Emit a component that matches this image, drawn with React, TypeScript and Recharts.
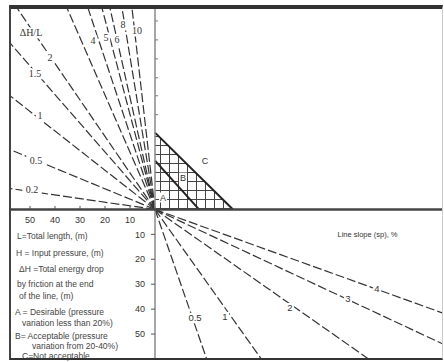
import {
  ComposedChart,
  Line,
  Area,
  XAxis,
  YAxis,
  ReferenceLine,
  ReferenceDot,
} from "recharts";

// ΔH/L lines (upper-left quadrant), end points where they leave the frame
const ratioLabels = ["0.2", "0.5", "1", "1.5", "2", "3", "4", "5", "6", "8", "10"];
const ratioEndX = [-58, -58, -58, -58, -55.2, -35.2, -26.8, -21.2, -18, -13.2, -9.2];
const ratioEndY = [8.4, 24, 45.6, 66.8, 80.8, 80.8, 80.8, 80.8, 80.8, 80.8, 80.8];

// line slope lines (lower-right quadrant)
const slopeLabels = ["0.5", "1", "2", "3", "4"];
const slopeEndX = [20.8, 42.8, 86, 115.2, 115.2];
const slopeEndY = [-60.4, -60.4, -60.4, -54, -41.6];

// zone limits (upper-right quadrant)
const zoneNames = ["B", "C"];
const zoneTopY = [19.6, 30.8];
const zoneEndX = [17.6, 31.2];

const lengthTicks = [10, 20, 30, 40, 50];
const depthTicks = [10, 20, 30, 40, 50];
const pressureTicks = [38, 45.6, 52.8, 60.4, 68, 75.6];

// where the labels sit (chart units)
const ratioSpots: ([number, number] | null)[] = [
  [-49.2, 8], [-47.6, 19.6], [-46, 37.6], [-48, 54.4], [-42, 60.8], null,
  [-24.8, 67.6], [-19.6, 68.8], [-15.2, 68], [-12.8, 74], [-7.2, 71.6],
];
const slopeSpots: [number, number][] = [
  [16, -43.6], [28, -43.2], [54, -39.6], [77.2, -35.6], [88.8, -31.6],
];

const X_DOMAIN = [-58, 115.2];
const Y_DOMAIN = [-60.4, 80.8];
const INK = "#333";

const notes = [
  { t: "L=Total length, (m)", x: 17, y: 231 },
  { t: "H = Input  pressure, (m)", x: 16, y: 248 },
  { t: "ΔH  =Total energy drop", x: 19, y: 264 },
  { t: "by friction at the end", x: 17, y: 279 },
  { t: "of the line, (m)", x: 19, y: 291 },
  { t: "A = Desirable (pressure", x: 15, y: 307 },
  { t: "variation less than 20%)", x: 22, y: 318 },
  { t: "B= Acceptable (pressure", x: 15, y: 331 },
  { t: "variation from 20-40%)", x: 32, y: 341 },
  { t: "C=Not acceptable", x: 22, y: 351 },
];

function Tag(props: any) {
  const { cx, cy, text, size = 10, font = "Liberation Serif", box = true } = props;
  const w = text.length * size * 0.55 + 3;
  return (
    <g>
      {box && (
        <rect x={cx - w / 2} y={cy - size * 0.55} width={w} height={size * 1.1} fill="#fff" />
      )}
      <text
        x={cx}
        y={cy}
        dy="0.35em"
        textAnchor="middle"
        fontSize={size}
        fontFamily={font}
        fill={INK}
      >
        {text}
      </text>
    </g>
  );
}

export default function App() {
  return (
    <div style={{ position: "absolute", left: 0, top: 0, width: 444, height: 362, background: "#fff" }}>
      <svg width={0} height={0} style={{ position: "absolute" }}>
        <defs>
          <pattern id="hatch" patternUnits="userSpaceOnUse" x={160} y={145} width={9} height={9}>
            <path d="M0 0.5 H9 M0.5 0 V9" stroke="#444" strokeWidth={1} fill="none" />
          </pattern>
        </defs>
      </svg>

      <ComposedChart width={444} height={362} margin={{ top: 8, right: 1, bottom: 2, left: 10 }}>
        <XAxis type="number" dataKey="x" domain={X_DOMAIN} allowDataOverflow hide />
        <YAxis type="number" dataKey="y" domain={Y_DOMAIN} allowDataOverflow hide />

        {/* hatched acceptable zone */}
        <Area
          data={[
            { x: 0, y: zoneTopY[1] },
            { x: zoneEndX[1], y: 0 },
          ]}
          dataKey="y"
          type="linear"
          stroke="none"
          fill="url(#hatch)"
          fillOpacity={1}
          isAnimationActive={false}
        />

        {ratioLabels.map((r, i) => (
          <Line
            key={"r" + r}
            data={[
              { x: 0, y: 0 },
              { x: ratioEndX[i], y: ratioEndY[i] },
            ]}
            dataKey="y"
            type="linear"
            stroke={INK}
            strokeWidth={1.2}
            strokeDasharray="9 3"
            dot={false}
            isAnimationActive={false}
          />
        ))}

        {slopeLabels.map((s, i) => (
          <Line
            key={"s" + s}
            data={[
              { x: 0, y: 0 },
              { x: slopeEndX[i], y: slopeEndY[i] },
            ]}
            dataKey="y"
            type="linear"
            stroke={INK}
            strokeWidth={1.2}
            strokeDasharray="9 3"
            dot={false}
            isAnimationActive={false}
          />
        ))}

        {zoneNames.map((z, i) => (
          <Line
            key={"z" + z}
            data={[
              { x: 0, y: zoneTopY[i] },
              { x: zoneEndX[i], y: 0 },
            ]}
            dataKey="y"
            type="linear"
            stroke="#222"
            strokeWidth={2}
            dot={false}
            isAnimationActive={false}
          />
        ))}

        {/* axes through the origin */}
        <ReferenceLine x={0} stroke="#8a8a8a" strokeWidth={1.5} />
        <ReferenceLine y={0} stroke="#444" strokeWidth={2.5} />

        {lengthTicks.map((v) => (
          <ReferenceLine key={"lt" + v} segment={[{ x: -v, y: 0 }, { x: -v, y: 1.4 }]} stroke="#555" />
        ))}
        {depthTicks.map((v) => (
          <ReferenceLine key={"dt" + v} segment={[{ x: -1.6, y: -v }, { x: 0, y: -v }]} stroke="#555" />
        ))}
        {pressureTicks.map((v) => (
          <ReferenceLine key={"pt" + v} segment={[{ x: 0, y: v }, { x: 1.2, y: v }]} stroke="#777" />
        ))}

        {lengthTicks.map((v) => (
          <ReferenceDot
            key={"ll" + v}
            x={-v}
            y={-4}
            r={1}
            shape={(p: any) => <Tag {...p} text={String(v)} size={9} font="Liberation Sans" box={false} />}
          />
        ))}
        {depthTicks.map((v) => (
          <ReferenceDot
            key={"dl" + v}
            x={-6}
            y={-v}
            r={1}
            shape={(p: any) => <Tag {...p} text={String(v)} size={9} font="Liberation Sans" box={false} />}
          />
        ))}

        <ReferenceDot
          x={-49.6}
          y={70.8}
          r={1}
          shape={(p: any) => <Tag {...p} text="ΔH/L" size={10} />}
        />
        {ratioLabels.map((r, i) =>
          ratioSpots[i] ? (
            <ReferenceDot
              key={"rl" + r}
              x={ratioSpots[i]![0]}
              y={ratioSpots[i]![1]}
              r={1}
              shape={(p: any) => <Tag {...p} text={r} size={10} />}
            />
          ) : null
        )}
        {slopeLabels.map((s, i) => (
          <ReferenceDot
            key={"sl" + s}
            x={slopeSpots[i][0]}
            y={slopeSpots[i][1]}
            r={1}
            shape={(p: any) => <Tag {...p} text={s} size={9.5} font="Liberation Sans" />}
          />
        ))}

        <ReferenceDot x={3.2} y={4.8} r={1} shape={(p: any) => <Tag {...p} text="A" size={9} font="Liberation Sans" />} />
        <ReferenceDot x={11.2} y={12.8} r={1} shape={(p: any) => <Tag {...p} text="B" size={9} font="Liberation Sans" />} />
        <ReferenceDot x={20} y={19.6} r={1} shape={(p: any) => <Tag {...p} text="C" size={9} font="Liberation Sans" box={false} />} />
        <ReferenceDot
          x={85}
          y={-10}
          r={1}
          shape={(p: any) => <Tag {...p} text="Line slope (sp), %" size={7.5} font="Liberation Sans" box={false} />}
        />
      </ComposedChart>

      {notes.map((n) => (
        <div
          key={n.t}
          style={{
            position: "absolute",
            left: n.x,
            top: n.y,
            fontFamily: "Liberation Sans",
            fontSize: 8.5,
            lineHeight: "10px",
            color: "#444",
            whiteSpace: "nowrap",
          }}
        >
          {n.t}
        </div>
      ))}

      {/* frame */}
      <div
        style={{
          position: "absolute",
          left: 9,
          top: 5,
          width: 434,
          height: 355,
          boxSizing: "border-box",
          borderTop: "4px solid #333",
          borderLeft: "2px solid #444",
          borderBottom: "2px solid #333",
          borderRight: "1px solid #ccc",
          pointerEvents: "none",
        }}
      />
    </div>
  );
}
